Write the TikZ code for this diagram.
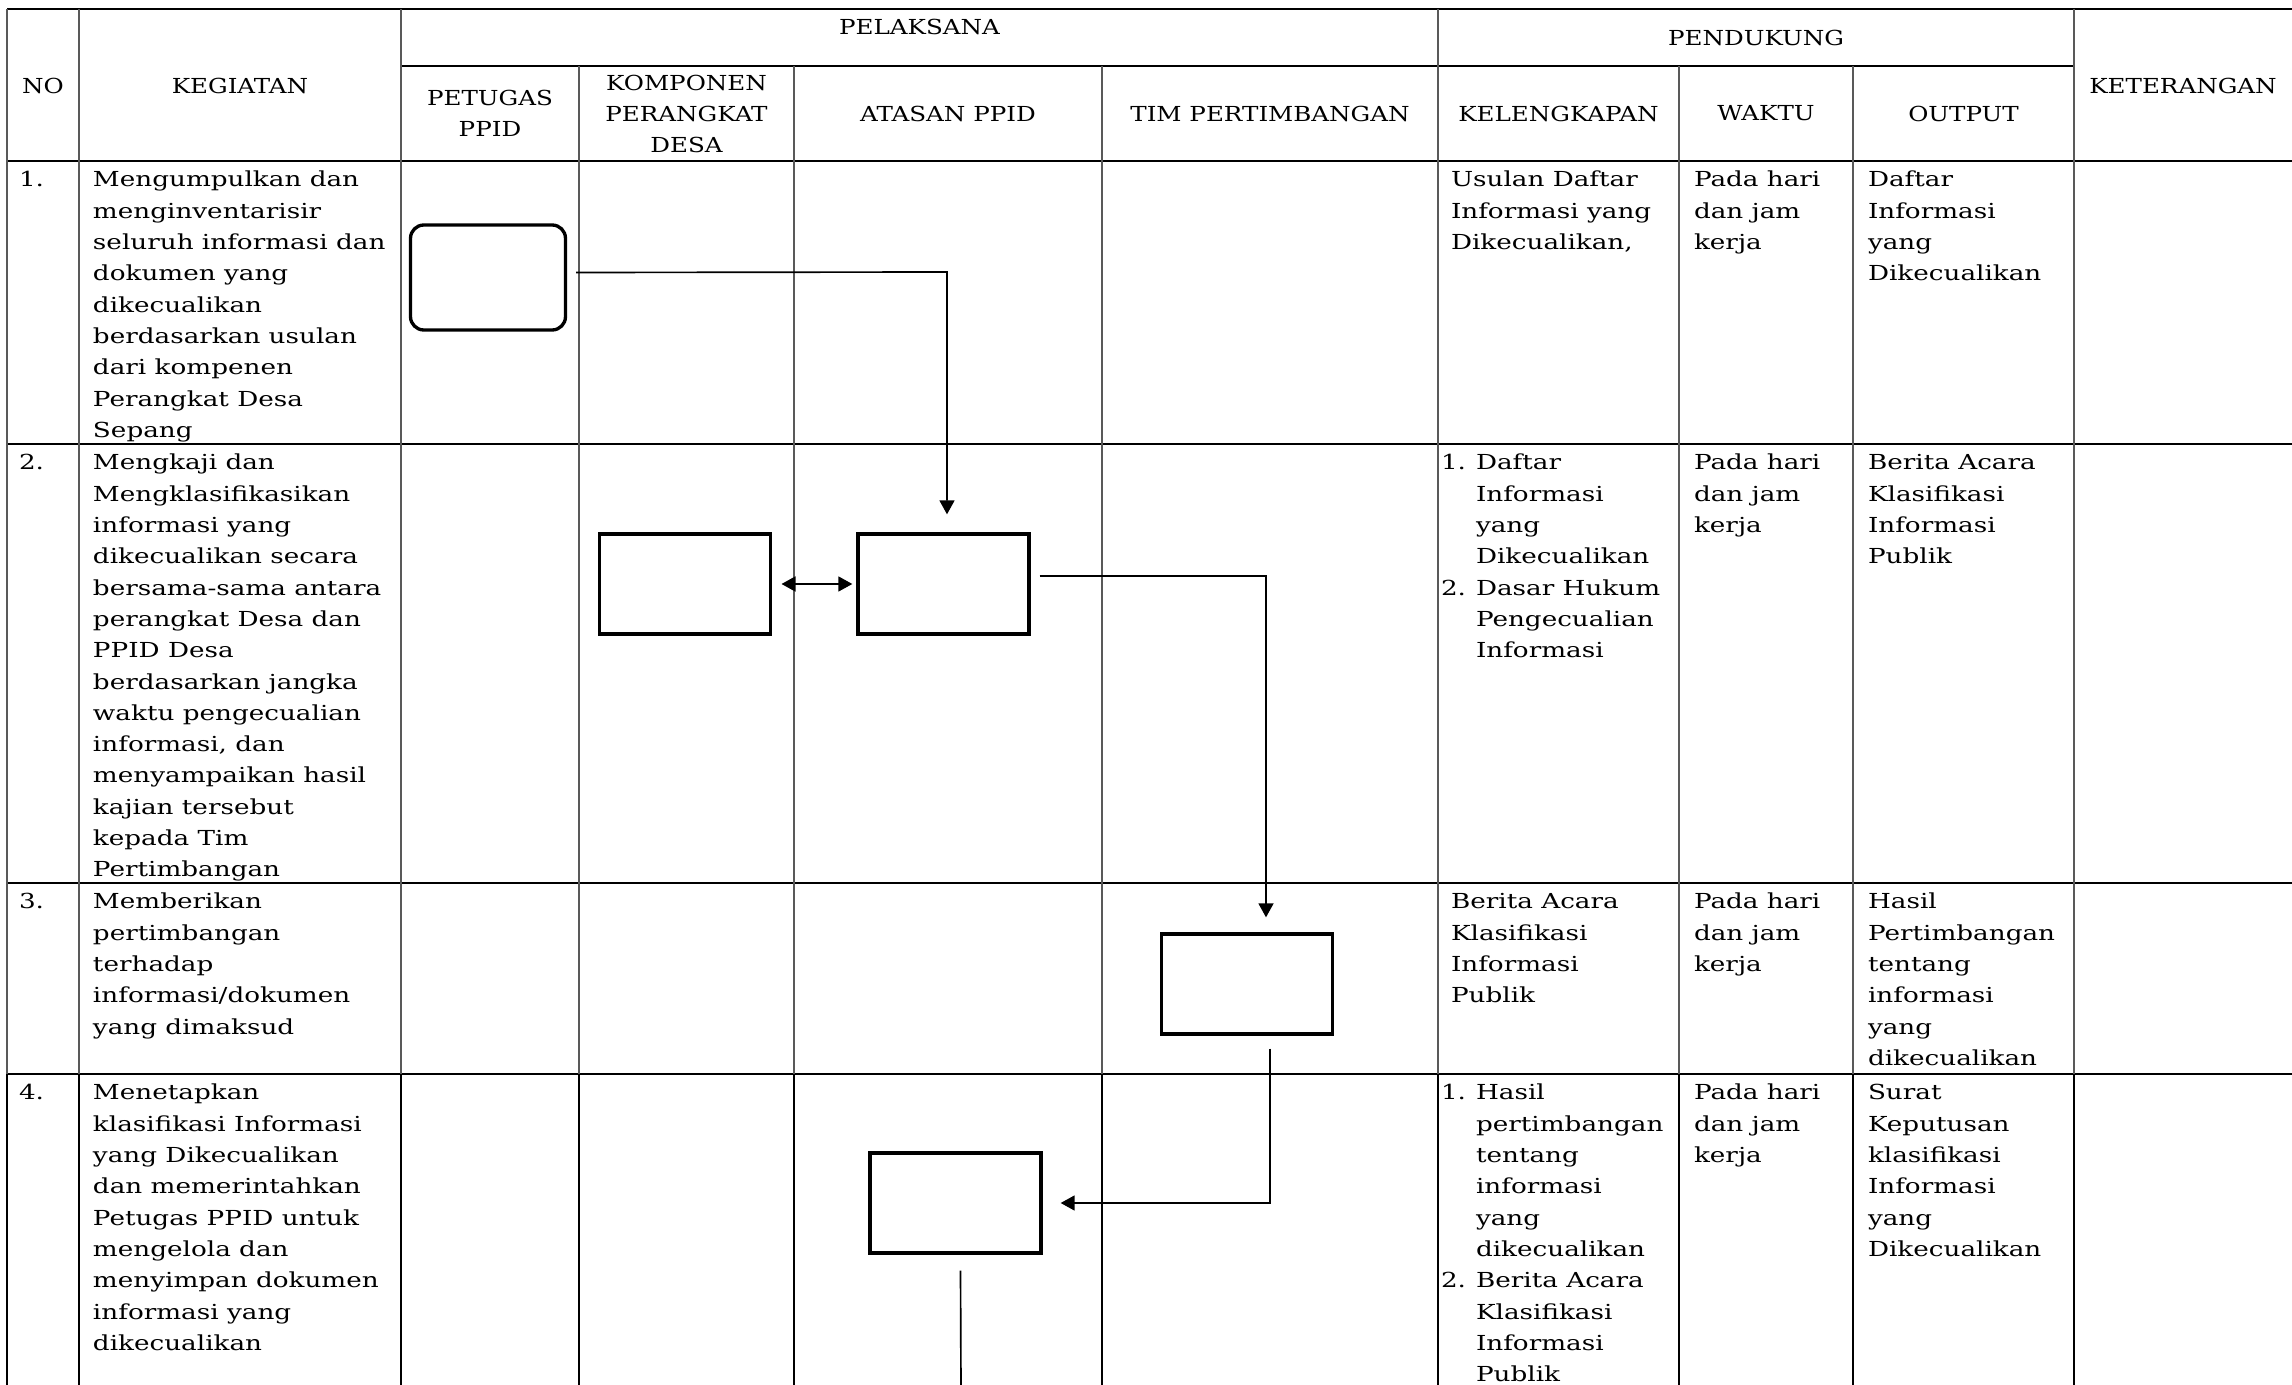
\documentclass[tikz,border=0pt]{standalone}
\usepackage{fontspec}
\setmainfont{DejaVu Serif}[FakeStretch=1.27]
\newfontfamily\headfont{DejaVu Serif}[FakeStretch=1.19]
\usetikzlibrary{arrows.meta,calc}
\tikzset{
  hline/.style={line width=0.8pt, black},
  vline/.style={line width=0.5pt, black!65},
  vlinedark/.style={line width=0.6pt, black},
  txt/.style={font=\fontsize{6.2pt}{9.39pt}\selectfont, inner sep=0pt, outer sep=0pt},
  cell/.style={txt, align=left, anchor=north west},
  head/.style={txt, font=\fontsize{6.2pt}{9.39pt}\headfont, align=center, anchor=center},
  stepbox/.style={draw, line width=1pt, minimum width=51.3pt, minimum height=30pt, inner sep=0pt},
  startbox/.style={stepbox, rounded corners=4pt, minimum width=46.5pt, minimum height=31.5pt},
  conn/.style={line width=0.5pt},
  tip/.style={-{Triangle[length=4.2pt,width=4.5pt]}},
  dtip/.style={{Triangle[length=4.2pt,width=4.5pt]}-{Triangle[length=4.2pt,width=4.5pt]}},
}
\begin{document}
\begin{tikzpicture}[x=0.3pt,y=-0.3pt]
\useasboundingbox (0,0) rectangle (2292,1385);

% ---------- grid ----------
\draw[hline] (7,9) -- (2292,9);
\draw[hline] (401,66) -- (2074,66);
\foreach \yy in {161,444,883,1074} \draw[hline] (7,\yy) -- (2292,\yy);
\foreach \xx in {7,79,401,1438,2074} {
  \draw[vline] (\xx,9) -- (\xx,1074);
  \draw[vlinedark] (\xx,1074) -- (\xx,1385);
}
\foreach \xx in {579,794,1102,1679,1853} {
  \draw[vline] (\xx,66) -- (\xx,1074);
  \draw[vlinedark] (\xx,1074) -- (\xx,1385);
}

% ---------- header ----------
\node[head] (hNo)  at (43,86)   {NO};
\node[head] (hKeg) at (240,86)  {KEGIATAN};
\node[head] (hPel) at (919.5,27) {PELAKSANA};
\node[head] (hPen) at (1756,38) {PENDUKUNG};
\node[head] (hKet) at (2183,86) {KETERANGAN};
\node[head] (hPet) at (490,113.5)   {PETUGAS\\PPID};
\node[head] (hKom) at (686.5,114) {KOMPONEN\\PERANGKAT\\DESA};
\node[head] (hAta) at (948,113.5)   {ATASAN PPID};
\node[head] (hTim) at (1270,113.5)  {TIM PERTIMBANGAN};
\node[head] (hKel) at (1558.5,113.5) {KELENGKAPAN};
\node[head] (hWak) at (1766,113.5)  {WAKTU};
\node[head] (hOut) at (1963.5,113.5) {OUTPUT};

% ---------- row 1 ----------
\node[cell] (n1) at (19,165) {\strut 1.};
\node[cell] (k1) at (93,165) {\strut Mengumpulkan dan\\menginventarisir\\seluruh informasi dan\\dokumen yang\\dikecualikan\\berdasarkan usulan\\dari kompenen\\Perangkat Desa\\Sepang};
\node[cell] (l1) at (1451,165) {\strut Usulan Daftar\\Informasi yang\\Dikecualikan,};
\node[cell] (w1) at (1694,165) {\strut Pada hari\\dan jam\\kerja};
\node[cell] (o1) at (1868,165) {\strut Daftar\\Informasi\\yang\\Dikecualikan};

% ---------- row 2 ----------
\node[cell] (n2) at (19,448) {\strut 2.};
\node[cell] (k2) at (93,448) {\strut Mengkaji dan\\Mengklasifikasikan\\informasi yang\\dikecualikan secara\\bersama-sama antara\\perangkat Desa dan\\PPID Desa\\berdasarkan jangka\\waktu pengecualian\\informasi, dan\\menyampaikan hasil\\kajian tersebut\\kepada Tim\\Pertimbangan};
\node[cell] (l2a) at (1441,448) {\strut 1.};
\node[cell] (l2b) at (1441,573.2) {\strut 2.};
\node[cell] (l2) at (1476,448) {\strut Daftar\\Informasi\\yang\\Dikecualikan\\Dasar Hukum\\Pengecualian\\Informasi};
\node[cell] (w2) at (1694,448) {\strut Pada hari\\dan jam\\kerja};
\node[cell] (o2) at (1868,448) {\strut Berita Acara\\Klasifikasi\\Informasi\\Publik};

% ---------- row 3 ----------
\node[cell] (n3) at (19,887) {\strut 3.};
\node[cell] (k3) at (93,887) {\strut Memberikan\\pertimbangan\\terhadap\\informasi/dokumen\\yang dimaksud};
\node[cell] (l3) at (1451,887) {\strut Berita Acara\\Klasifikasi\\Informasi\\Publik};
\node[cell] (w3) at (1694,887) {\strut Pada hari\\dan jam\\kerja};
\node[cell] (o3) at (1868,887) {\strut Hasil\\Pertimbangan\\tentang\\informasi\\yang\\dikecualikan};

% ---------- row 4 ----------
\node[cell] (n4) at (19,1078) {\strut 4.};
\node[cell] (k4) at (93,1078) {\strut Menetapkan\\klasifikasi Informasi\\yang Dikecualikan\\dan memerintahkan\\Petugas PPID untuk\\mengelola dan\\menyimpan dokumen\\informasi yang\\dikecualikan};
\node[cell] (l4a) at (1441,1078) {\strut 1.};
\node[cell] (l4b) at (1441,1265.8) {\strut 2.};
\node[cell] (l4) at (1476,1078) {\strut Hasil\\pertimbangan\\tentang\\informasi\\yang\\dikecualikan\\Berita Acara\\Klasifikasi\\Informasi\\Publik};
\node[cell] (w4) at (1694,1078) {\strut Pada hari\\dan jam\\kerja};
\node[cell] (o4) at (1868,1078) {\strut Surat\\Keputusan\\klasifikasi\\Informasi\\yang\\Dikecualikan};

% ---------- flow boxes ----------
\node[startbox] (b1) at (488,277.5) {};
\node[stepbox]  (b2) at (685,584) {};
\node[stepbox]  (b3) at (943.5,584) {};
\node[stepbox]  (b4) at (1247,984) {};
\node[stepbox]  (b5) at (955.5,1203) {};
\coordinate (bend1) at (947,272);
\coordinate (end4) at (961,1390);

% ---------- connectors ----------
\draw[conn,tip,shorten >=5.4pt] ($(b1.east)+(9,-5)$) -- (bend1) -- (bend1 |- b3.north);
\draw[conn,dtip,shorten <=2.8pt,shorten >=1.2pt] (b2.east) -- (b3.west);
\draw[conn,tip,shorten >=4.5pt] ($(b3.east)+(9,-8)$) -| ($(b4.north)+(19,0)$);
\draw[conn,tip,shorten >=5.4pt] ($(b4.south)+(23,13)$) |- (b5.east);
\draw[conn] ($(b5.south)+(5,16)$) -- (end4);
\end{tikzpicture}
\end{document}
